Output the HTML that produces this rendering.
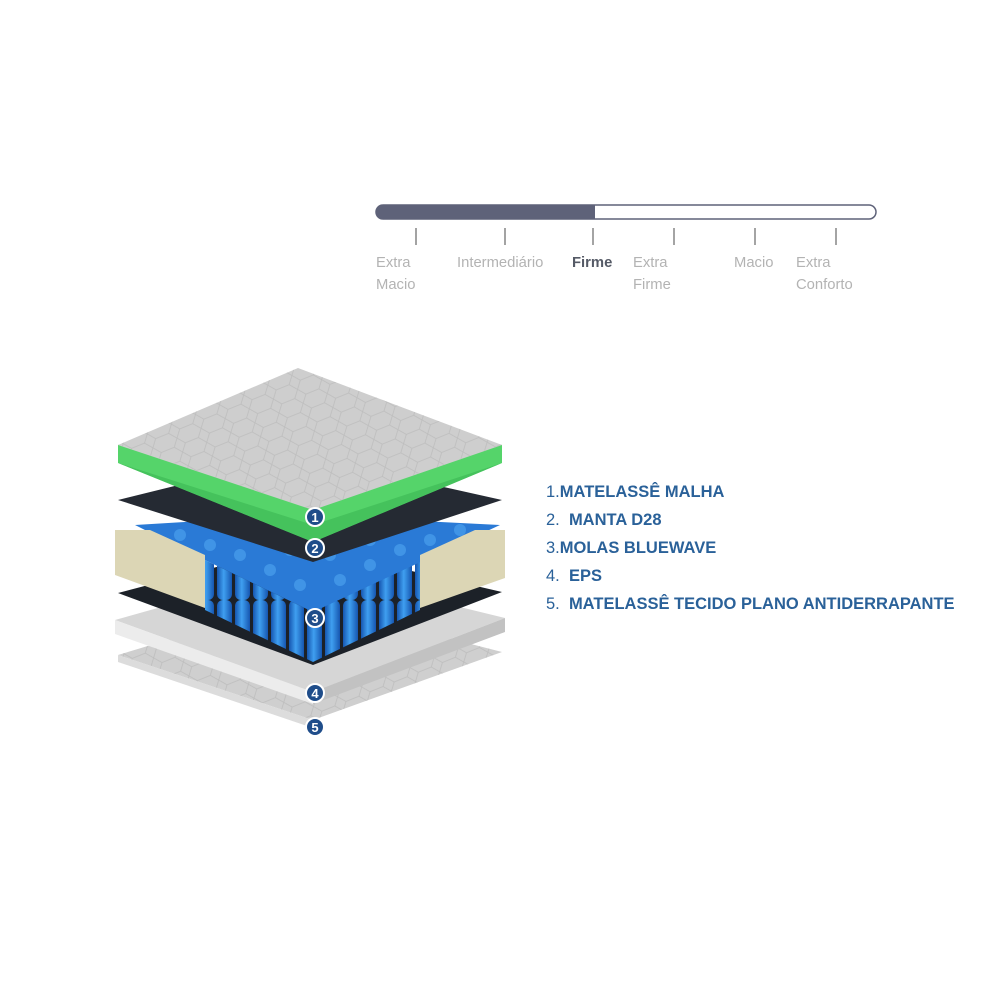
<!DOCTYPE html>
<html><head><meta charset="utf-8"><style>
body{margin:0;width:1000px;height:1000px;background:#fff;overflow:hidden;position:relative;font-family:"Liberation Sans",sans-serif}
.l{position:absolute;font-size:14.8px;color:#b3b3b3;line-height:22px}
.t{position:absolute;font-size:16.5px;color:#2a6199;font-family:"Liberation Sans",sans-serif;line-height:20px}
.t b{font-weight:bold}
</style></head><body>
<svg width="1000" height="1000" style="position:absolute;left:0;top:0">
<defs>
<pattern id="hex" width="26" height="15" patternUnits="userSpaceOnUse" patternTransform="rotate(-22)">
<path d="M0 7.5 L6 0 L20 0 L26 7.5 L20 15 L6 15 Z" fill="none" stroke="#bdbdbd" stroke-width="0.8"/>
</pattern>
<linearGradient id="col" x1="0" x2="1"><stop offset="0" stop-color="#1656b0"/><stop offset=".45" stop-color="#3f9ff0"/><stop offset="1" stop-color="#1656b0"/></linearGradient>
<pattern id="cols" width="18" height="200" patternUnits="userSpaceOnUse"><rect x="1" y="0" width="15" height="200" rx="6" fill="url(#col)"/></pattern>
</defs>
<rect x="376" y="205" width="500" height="14" rx="7" fill="#fff" stroke="#5e6279" stroke-width="1.5"/>
<path d="M383 205 H595 V219 H383 A7 7 0 0 1 383 205Z" fill="#5e6279"/>
<g stroke="#666" stroke-width="1.2"><line x1="416" y1="228" x2="416" y2="245"/><line x1="505" y1="228" x2="505" y2="245"/><line x1="593" y1="228" x2="593" y2="245"/><line x1="674" y1="228" x2="674" y2="245"/><line x1="755" y1="228" x2="755" y2="245"/><line x1="836" y1="228" x2="836" y2="245"/></g>
<!-- layer 5 -->
<polygon points="118,655 300,600 502,652 313,720" fill="#cfcfcf"/>
<polygon points="118,655 300,600 502,652 313,720" fill="url(#hex)"/>
<polygon points="118,655 313,720 313,728 118,662" fill="#dcdcdc"/>
<!-- layer 4 EPS -->
<polygon points="115,620 300,568 505,618 313,692" fill="#d6d6d6"/>
<polygon points="115,620 313,692 313,704 115,634" fill="#ececec"/>
<polygon points="505,618 313,692 313,704 505,632" fill="#c2c2c2"/>
<!-- dark bottom -->
<polygon points="118,593 300,545 502,592 313,665" fill="#1c2128"/>
<!-- springs -->
<path d="M205,560 L313,612 L420,560 L420,610 L313,662 L205,610Z" fill="url(#cols)"/>
<polygon points="135,525 300,515 500,525 313,612 205,560" fill="#2a7ad6"/>
<g fill="#4aa0ee" opacity=".7">
<circle cx="180" cy="535" r="6"/><circle cx="210" cy="545" r="6"/><circle cx="240" cy="555" r="6"/><circle cx="270" cy="570" r="6"/><circle cx="300" cy="585" r="6"/>
<circle cx="340" cy="580" r="6"/><circle cx="370" cy="565" r="6"/><circle cx="400" cy="550" r="6"/><circle cx="430" cy="540" r="6"/><circle cx="460" cy="530" r="6"/>
<circle cx="250" cy="535" r="6"/><circle cx="290" cy="550" r="6"/><circle cx="330" cy="555" r="6"/><circle cx="370" cy="540" r="6"/><circle cx="300" cy="530" r="6"/>
</g>
<!-- beige side -->
<polygon points="115,530 150,530 205,555 205,608 115,575" fill="#dcd6b5"/>
<polygon points="420,555 475,530 505,530 505,578 420,608" fill="#dcd6b5"/>
<!-- dark layer top -->
<polygon points="118,500 300,455 502,500 313,562" fill="#252a33"/>
<!-- green -->
<polygon points="118,445 298,390 502,445 502,463 313,542 118,463" fill="#55d46a"/>
<polygon points="118,463 313,542 502,463 313,525" fill="#45c25c"/>
<!-- top -->
<polygon points="118,445 298,368 502,445 313,510" fill="#cecece"/>
<polygon points="118,445 298,368 502,445 313,510" fill="url(#hex)"/>
<g font-family="Liberation Sans,sans-serif" font-weight="bold" font-size="13" fill="#fff" text-anchor="middle">
<circle cx="315" cy="517" r="9" fill="#1f4d8a" stroke="#fff" stroke-width="2"/><text x="315" y="522">1</text>
<circle cx="315" cy="548" r="9" fill="#1f4d8a" stroke="#fff" stroke-width="2"/><text x="315" y="553">2</text>
<circle cx="315" cy="618" r="9" fill="#1f4d8a" stroke="#fff" stroke-width="2"/><text x="315" y="623">3</text>
<circle cx="315" cy="693" r="9" fill="#1f4d8a" stroke="#fff" stroke-width="2"/><text x="315" y="698">4</text>
<circle cx="315" cy="727" r="9" fill="#1f4d8a" stroke="#fff" stroke-width="2"/><text x="315" y="732">5</text>
</g>
</svg>
<div class="l" style="left:376px;top:252px">Extra<br>Macio</div>
<div class="l" style="left:457px;top:252px">Intermediário</div>
<div class="l" style="left:572px;top:252px;color:#555a66;font-weight:bold">Firme</div>
<div class="l" style="left:633px;top:252px">Extra<br>Firme</div>
<div class="l" style="left:734px;top:252px">Macio</div>
<div class="l" style="left:796px;top:252px">Extra<br>Conforto</div>
<div class="t" style="left:546px;top:482px">1.<b>MATELASSÊ MALHA</b></div>
<div class="t" style="left:546px;top:510px">2. &nbsp;<b>MANTA D28</b></div>
<div class="t" style="left:546px;top:538px">3.<b>MOLAS BLUEWAVE</b></div>
<div class="t" style="left:546px;top:566px">4. &nbsp;<b>EPS</b></div>
<div class="t" style="left:546px;top:594px">5. &nbsp;<b>MATELASSÊ TECIDO PLANO ANTIDERRAPANTE</b></div>
</body></html>
